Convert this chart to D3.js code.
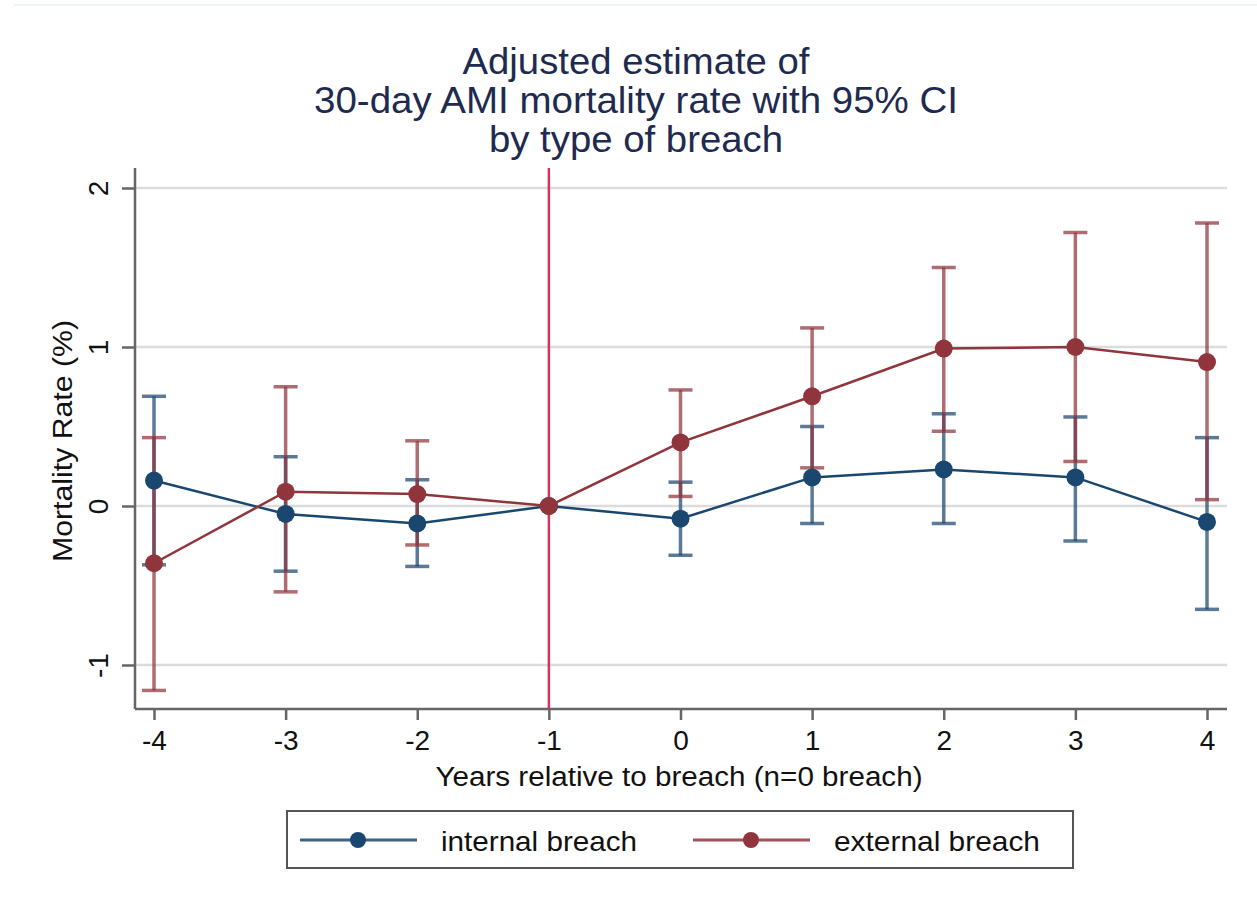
<!DOCTYPE html>
<html><head><meta charset="utf-8">
<script src="https://cdn.jsdelivr.net/npm/d3@7"></script>
<style>body{margin:0;background:#fff}svg{display:block;font-family:"Liberation Sans",Arial,sans-serif}</style>
</head><body><svg id="c" width="1257" height="905"></svg>
<script>
const years = [-4,-3,-2,-1,0,1,2,3,4];
const internalEst = [0.16,-0.05,-0.11,0,-0.08,0.18,0.23,0.18,-0.10];
const internalLo  = [-0.37,-0.41,-0.38,0,-0.31,-0.11,-0.11,-0.22,-0.65];
const internalHi  = [0.69,0.31,0.165,0,0.15,0.50,0.58,0.56,0.43];
const externalEst = [-0.36,0.09,0.075,0,0.40,0.69,0.99,1.00,0.905];
const externalLo  = [-1.16,-0.54,-0.245,0,0.06,0.24,0.47,0.28,0.04];
const externalHi  = [0.43,0.75,0.41,0,0.73,1.12,1.50,1.72,1.78];
const yTicks = [-1,0,1,2];
const titleLines = ["Adjusted estimate of","30-day AMI mortality rate with 95% CI","by type of breach"];
const seriesNames = ["internal breach","external breach"];
const breachLine = -1;

(function(){
const svg = d3.select("#c");
const pL=135, pR=1227, pT=168, pB=709;
const x = d3.scaleLinear().domain([-4,4]).range([154,1207]);
const y = d3.scaleLinear().domain([-1,2]).range([665,188]);
const colors = ["#1a476f","#90353b"];
const fmt = d=>String(d);

svg.append("line").attr("x1",14).attr("x2",1257).attr("y1",5).attr("y2",5).attr("stroke","#eef3f3").attr("stroke-width",2);

// title
const titleW = [347,644,294];
svg.append("g").selectAll("text").data(titleLines).join("text")
  .attr("x",636).attr("y",(d,i)=>74+i*39).attr("text-anchor","middle")
  .attr("font-size",36).attr("fill","#1e2a4f")
  .attr("textLength",(d,i)=>titleW[i]).attr("lengthAdjust","spacingAndGlyphs").text(d=>d);

// gridlines
svg.append("g").selectAll("line").data(yTicks).join("line")
  .attr("x1",pL).attr("x2",pR).attr("y1",d=>y(d)).attr("y2",d=>y(d))
  .attr("stroke","#dcdcdc").attr("stroke-width",2.5);

// axes
const yAxis = svg.append("g").attr("transform",`translate(${pL},0)`)
  .call(d3.axisLeft(y).tickValues(yTicks).tickSize(13).tickFormat(fmt));
yAxis.select(".domain").attr("d",`M0,${pT}V${pB}`);
const xAxis = svg.append("g").attr("transform",`translate(0,${pB})`)
  .call(d3.axisBottom(x).tickValues(years).tickSize(11).tickFormat(fmt));
xAxis.select(".domain").attr("d",`M${pL},0H${pR}`);
[yAxis,xAxis].forEach(a=>{
  a.attr("font-size",28).attr("font-family","Liberation Sans, Arial, sans-serif");
  a.select(".domain").attr("stroke","#666").attr("stroke-width",2.5);
  a.selectAll(".tick line").attr("stroke","#666").attr("stroke-width",2.5);
  a.selectAll(".tick text").attr("fill","#111");
});
xAxis.selectAll(".tick text").attr("dy",0).attr("y",41);
yAxis.selectAll(".tick text").attr("x",null)
  .attr("transform","translate(-37,0) rotate(-90)").attr("text-anchor","middle").attr("dy","0.36em");

svg.append("text").attr("transform","translate(72,441) rotate(-90)").attr("text-anchor","middle")
  .attr("font-size",27).attr("fill","#111").attr("textLength",242).attr("lengthAdjust","spacingAndGlyphs")
  .text("Mortality Rate (%)");
svg.append("text").attr("x",679).attr("y",786).attr("text-anchor","middle")
  .attr("font-size",27).attr("fill","#111").attr("textLength",487).attr("lengthAdjust","spacingAndGlyphs")
  .text("Years relative to breach (n=0 breach)");

// vertical breach line
svg.append("line").attr("x1",x(breachLine)).attr("x2",x(breachLine)).attr("y1",pT).attr("y2",pB)
  .attr("stroke","#d6325a").attr("stroke-width",2.5);

const series = [
  {est:internalEst, lo:internalLo, hi:internalHi},
  {est:externalEst, lo:externalLo, hi:externalHi}
];
const line = d3.line().x((d,i)=>x(years[i])).y(d=>y(d));
series.forEach((s,k)=>{
  const g = svg.append("g");
  const idx = years.map((_,i)=>i).filter(i=>s.hi[i]!==s.lo[i]);
  g.selectAll("line.v").data(idx).join("line").attr("class","v")
    .attr("x1",i=>x(years[i])).attr("x2",i=>x(years[i])).attr("y1",i=>y(s.lo[i])).attr("y2",i=>y(s.hi[i]))
    .attr("stroke",colors[k]).attr("stroke-opacity",0.72).attr("stroke-width",3.5);
  ["lo","hi"].forEach(key=>{
    g.selectAll("line."+key).data(idx).join("line").attr("class",key)
      .attr("x1",i=>x(years[i])-12).attr("x2",i=>x(years[i])+12).attr("y1",i=>y(s[key][i])).attr("y2",i=>y(s[key][i]))
      .attr("stroke",colors[k]).attr("stroke-opacity",0.72).attr("stroke-width",3.5);
  });
});
series.forEach((s,k)=>{
  const g = svg.append("g");
  g.append("path").attr("d",line(s.est)).attr("fill","none").attr("stroke",colors[k]).attr("stroke-width",2.5);
  g.selectAll("circle").data(s.est).join("circle").attr("cx",(d,i)=>x(years[i])).attr("cy",d=>y(d))
    .attr("r",9).attr("fill",colors[k]);
});

// legend
const lg = svg.append("g");
lg.append("rect").attr("x",287).attr("y",811).attr("width",786).attr("height",57)
  .attr("fill","#fff").attr("stroke","#555").attr("stroke-width",2);
const legX = [300,693];
const legW = [196,206];
seriesNames.forEach((n,k)=>{
  const lx = legX[k];
  lg.append("line").attr("x1",lx).attr("x2",lx+117).attr("y1",840).attr("y2",840)
    .attr("stroke",colors[k]).attr("stroke-opacity",0.85).attr("stroke-width",3);
  lg.append("circle").attr("cx",lx+58).attr("cy",840).attr("r",8).attr("fill",colors[k]);
  lg.append("text").attr("x",lx+141).attr("y",851).attr("font-size",28).attr("fill","#111")
    .attr("textLength",legW[k]).attr("lengthAdjust","spacingAndGlyphs").text(n);
});
})();
</script></body></html>
